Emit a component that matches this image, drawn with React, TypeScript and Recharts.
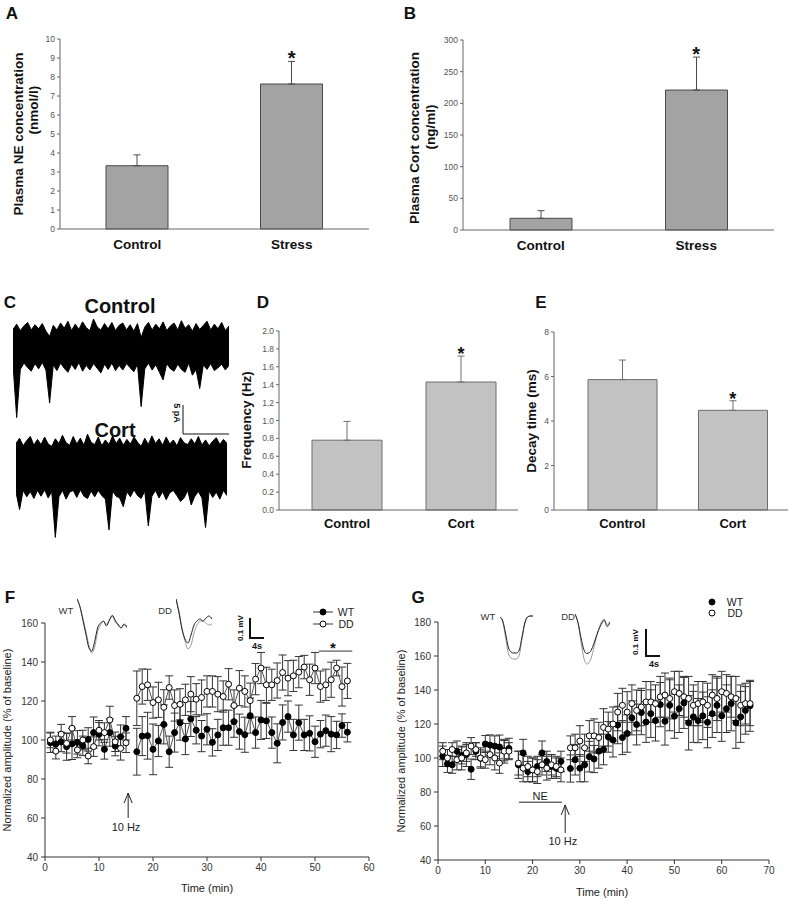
import React from "react";
import {
  BarChart,
  Bar,
  XAxis,
  YAxis,
  ErrorBar,
  ReferenceDot,
  ReferenceLine,
  ComposedChart,
  Line,
  LineChart,
  AreaChart,
  Area,
} from "recharts";

const FONT = "'Liberation Sans', Arial, Helvetica, sans-serif";

// A / B : plasma levels
const stressGroups = ["Control", "Stress"];
const neLevel = [3.33, 7.63];
const neErr = [0.57, 1.19];
const neTicks = [0, 1, 2, 3, 4, 5, 6, 7, 8, 9, 10];
const plasmaCort = [18.5, 221];
const plasmaCortErr = [12, 52];
const plasmaCortTicks = [0, 50, 100, 150, 200, 250, 300];

// D / E : mEPSC frequency and decay
const cortGroups = ["Control", "Cort"];
const freq = [0.78, 1.43];
const freqErr = [0.21, 0.29];
const freqTicks = [0, 0.2, 0.4, 0.6, 0.8, 1.0, 1.2, 1.4, 1.6, 1.8, 2.0];
const decay = [5.86, 4.48];
const decayErr = [0.88, 0.43];
const decayTicks = [0, 2, 4, 6, 8];

// C : example traces (pA), band top / bottom
const ctrlHigh = [
  3.0, 3.9, 2.8, 3.6, 4.2, 2.9, 3.8, 3.1, 4.0, 2.7,
  1.8, 3.7, 2.9, 4.1, 3.2, 4.4, 2.8, 3.9, 3.0, 4.3,
  3.3, 2.8, 4.8, 3.4, 2.9, 4.0, 3.1, 4.2, 2.8, 3.7,
  4.1, 2.9, 3.8, 2.7, 4.0, 1.6, 3.4, 4.2, 2.9, 3.9,
  3.1, 4.3, 2.8, 3.6, 4.1, 2.9, 4.5, 3.2, 3.8, 2.7,
  4.0, 3.0, 3.7, 4.4, 2.9, 3.9, 3.1, 4.2, 2.8, 3.6,
];
const ctrlLow = [
  -3.0, -12.2, -3.9, -2.8, -3.6, -4.2, -2.9, -3.8, -2.7, -4.0,
  -9.7, -3.1, -4.1, -2.8, -3.7, -4.4, -3.0, -3.9, -2.7, -4.2,
  -3.2, -4.0, -2.9, -3.7, -4.5, -3.0, -3.9, -2.8, -4.1, -3.2,
  -4.0, -2.9, -3.6, -4.3, -3.0, -10.3, -3.8, -2.8, -4.0, -3.1,
  -4.4, -5.7, -2.9, -3.8, -4.2, -3.0, -3.9, -4.4, -2.8, -4.9,
  -3.9, -7.2, -3.1, -3.9, -2.9, -4.1, -3.6, -3.0, -4.0, -3.2,
];
const cortHigh = [
  4.2, 5.1, 3.8, 4.7, 5.4, 3.9, 4.9, 4.0, 5.3, 4.1,
  3.7, 5.0, 4.2, 5.6, 4.3, 3.9, 5.4, 4.1, 5.1, 3.9,
  5.8, 4.4, 4.0, 5.3, 3.8, 4.8, 4.0, 5.5, 4.2, 5.1,
  3.9, 4.9, 4.1, 5.3, 4.4, 3.7, 5.1, 4.0, 5.5, 4.2,
  5.0, 3.9, 5.3, 4.1, 4.8, 3.8, 5.2, 4.3, 4.0, 5.0,
  4.1, 5.4, 3.9, 4.8, 3.8, 4.6, 5.2, 4.0, 4.9, 4.2,
];
const cortLow = [
  -4.2, -7.2, -3.9, -5.0, -4.1, -5.3, -3.9, -4.9, -3.8, -5.2,
  -4.1, -12.0, -5.0, -3.9, -5.4, -4.2, -3.9, -5.1, -3.8, -4.9,
  -5.3, -4.0, -5.0, -3.9, -4.8, -5.4, -10.7, -4.0, -4.9, -5.2,
  -6.7, -4.1, -5.0, -3.8, -4.8, -5.3, -4.0, -10.0, -4.9, -3.9,
  -5.2, -4.1, -5.5, -4.3, -3.9, -4.8, -5.8, -5.2, -3.9, -6.4,
  -4.9, -4.1, -5.2, -10.3, -4.0, -5.1, -4.2, -5.4, -3.9, -4.8,
];

// F : 10 Hz LTP, WT vs DD
const fTime = [
  1, 2, 3, 4, 5, 6, 7, 8, 9, 10, 11, 12, 13, 14, 15, 16, 17, 18, 19, 20,
  21, 22, 23, 24, 25, 26, 27, 28, 29, 30, 31, 32, 33, 34, 35, 36, 37, 38, 39, 40,
  41, 42, 43, 44, 45, 46, 47, 48, 49, 50, 51, 52, 53, 54, 55, 56,
];
const fWT = [
  98.6, 98, 99, 96.6, 98, 98.8, 97, 100.3, 103.8, 103, 95.2, 103.8, 96.9, 101.7, 106, null,
  94, 102, 102.2, 95.2, 99.5, 108, 94, 103.8, 108.9, 100.5,
  110.8, 105, 102, 105.5, 98.8, 102.6, 106.3, 106.3, 109.4, 104.3,
  102.7, 112.5, 103.8, 110.3, 109.8, 103.8, 98.3, 109, 112, 102.6,
  108.9, 102.6, 103.4, 99.1, 103, 104.8, 103, 102.6, 107.4, 104,
];
const fWTErr = [
  5, 4, 5, 7, 8, 6, 5, 6, 8, 6, 5, 7, 5, 6, 6, null,
  12, 10, 12, 13, 8, 10, 8, 10, 9, 8,
  9, 7, 8, 8, 7, 8, 9, 9, 8, 9,
  9, 9, 8, 10, 9, 8, 10, 9, 8, 8,
  9, 8, 9, 8, 7, 8, 9, 7, 6, 5,
];
const fDD = [
  100, 94.3, 103, 98.3, 106, 94.9, 100, 91.8, 96.6, 105, 103.8, 110.3, 99.1, 95.7, 98.6, null,
  121.4, 127.4, 128.3, 119.2, 120.6, 116.8, 126.9, 117.7, 118.3, 120.6,
  123.5, 120.9, 121.8, 124.9, 124.9, 123.5, 122.3, 128.6, 117.7, 126.6,
  124.9, 120.2, 131.2, 136.9, 128.3, 128.3, 130.5, 134.6, 131.7, 132.9,
  134.8, 137.4, 130.9, 136.9, 127.4, 128.3, 130.9, 136.9, 127.4, 130.3,
];
const fDDErr = [
  4, 4, 5, 5, 6, 4, 5, 4, 5, 5, 5, 7, 5, 6, 5, null,
  14, 9, 8, 8, 9, 9, 6, 8, 8, 8,
  9, 8, 9, 8, 8, 9, 8, 8, 8, 9,
  8, 9, 8, 8, 9, 8, 9, 9, 9, 8,
  8, 6, 8, 8, 8, 8, 9, 4, 10, 9,
];
const fTimeTicks = [0, 10, 20, 30, 40, 50, 60];
const fAmpTicks = [40, 60, 80, 100, 120, 140, 160];

// G : NE then 10 Hz, WT vs DD
const gTime = [
  1, 2, 3, 4, 5, 6, 7, 8, 9, 10, 11, 12, 13, 14, 15, 16, 17, 18, 19, 20,
  21, 22, 23, 24, 25, 26, 27, 28, 29, 30, 31, 32, 33, 34, 35, 36, 37, 38, 39, 40,
  41, 42, 43, 44, 45, 46, 47, 48, 49, 50, 51, 52, 53, 54, 55, 56, 57, 58, 59, 60,
  61, 62, 63, 64, 65, 66,
];
const gWT = [
  101, 96.5, 96, 104, 101.5, 102, 93.4, 104, 99.8, 108.2, 107.6, 107, 106.5, 104.3, 105.6, null,
  96, 103, 92, 93, 95, 103, 98, 95, 94, 98, null,
  93.8, 99, 94, 96, 100.8, 99.4, 104, 105, 112.4, 110.6,
  119.4, 112, 114.4, 123.6, 119.7, 126.7, 121.2, 126.1, 122, 131.4,
  121.6, 131, 124.6, 129, 132.4, 120.7, 124.2, 122, 124.8, 121,
  126.1, 131, 124.8, 129, 132, 120.7, 124.2, 128, 130.7,
];
const gWTErr = [
  6, 5, 5, 6, 5, 7, 6, 5, 5, 5, 6, 6, 7, 6, 6, null,
  8, 8, 6, 7, 6, 7, 6, 7, 6, 6, null,
  8, 9, 8, 10, 9, 8, 10, 9, 9, 10,
  11, 10, 11, 10, 12, 13, 12, 14, 12, 13,
  14, 15, 13, 14, 15, 16, 15, 13, 14, 15,
  14, 16, 15, 14, 16, 15, 15, 14, 15,
];
const gDD = [
  104, 100, 105, 99, 100, 103, 107, 105, 100, 99, 102, 100, 97, 104, 104, null,
  97, 94, 95, 93, 92, 96, 94, 96, 95, 93, null,
  106, 106, 110, 106, 113, 113, 112, 118, 117, 120,
  127, 131, 127, 132, 128, 130, 133, 133, 132, 136,
  137, 135, 139, 138, 136, 135, 131, 132, 133, 131,
  137, 135, 139, 138, 136, 135, 131, 132, 132,
];
const gDDErr = [
  5, 5, 4, 6, 7, 5, 5, 4, 6, 5, 6, 7, 6, 7, 5, null,
  7, 8, 6, 7, 7, 6, 7, 6, 6, 7, null,
  7, 8, 9, 8, 9, 10, 9, 11, 10, 10,
  11, 10, 12, 11, 12, 11, 12, 12, 11, 12,
  13, 12, 12, 13, 12, 13, 12, 13, 12, 13,
  12, 13, 12, 11, 12, 13, 12, 12, 13,
];
const gTimeTicks = [0, 10, 20, 30, 40, 50, 60, 70];
const gAmpTicks = [40, 60, 80, 100, 120, 140, 160, 180];

// field potential insets (arbitrary units, dark = baseline, light = after)
const fInsetWtDark = [0, -8, -22, -36, -50, -54, -44, -30, -25, -23, -28, -22, -17, -22, -27, -30, -26, -29];
const fInsetWtLight = [0, -8, -20, -33, -47, -56, -50, -34, -27, -23, -26, -22, -18, -24, -26, -30, -27, -30];
const fInsetDdDark = [0, -14, -30, -40, -44, -36, -26, -22, -20, -22, -19, -17, -20];
const fInsetDdLight = [0, -12, -30, -42, -50, -46, -34, -26, -22, -22, -24, -26, -25];
const gInsetWtDark = [0, -4, -16, -30, -35, -36, -36, -33, -20, -6, 0, 1, 1];
const gInsetWtLight = [0, -5, -20, -36, -41, -42, -42, -38, -22, -7, 0, 1, 1];
const gInsetDdDark = [2, -6, -20, -32, -36, -35, -30, -22, -14, -8, -4, -10, -6];
const gInsetDdLight = [2, -6, -24, -40, -46, -44, -36, -24, -14, -6, -3, -8, -5];

function Txt({ x, y, children, size = 11, weight = 400, rot = 0, color = "#111" }: any) {
  return (
    <div
      style={{
        position: "absolute",
        left: x,
        top: y,
        transform: `translate(-50%, -50%) rotate(${rot}deg)`,
        fontSize: size,
        fontWeight: weight,
        color,
        whiteSpace: "nowrap",
        lineHeight: 1,
        fontFamily: FONT,
      }}
    >
      {children}
    </div>
  );
}

const starShape = (size: number, lift: number) => (s: any) => (
  <text x={s.cx} y={s.cy + lift} textAnchor="middle" fontSize={size} fontWeight={700} fontFamily={FONT} fill="#111">
    *
  </text>
);

function BarPanel(p: any) {
  const data = p.groups.map((g: string, i: number) => ({ group: g, value: p.values[i], err: [0, p.errs[i]] }));
  return (
    <div style={{ position: "absolute", left: p.left, top: p.top }}>
      <BarChart
        width={p.width}
        height={p.height}
        data={data}
        margin={{ top: p.padTop, right: p.padRight, bottom: 0, left: 0 }}
      >
        <XAxis
          dataKey="group"
          height={p.xh}
          tickLine={false}
          axisLine={{ stroke: "#666" }}
          interval={0}
          tickMargin={p.labelGap}
          padding={{ left: p.padLeft, right: 0 }}
          tick={{ fontSize: p.labelSize, fontWeight: 700, fill: "#111", fontFamily: FONT }}
        />
        <YAxis
          width={p.yw}
          domain={p.domain}
          ticks={p.ticks}
          interval={0}
          tickSize={3}
          tickMargin={2}
          tickFormatter={p.fmt}
          axisLine={{ stroke: "#666" }}
          tickLine={{ stroke: "#666" }}
          tick={{ fontSize: 8.5, fill: "#555", fontFamily: FONT }}
        />
        <Bar dataKey="value" barSize={p.barSize} fill={p.fill} stroke={p.stroke} strokeWidth={1} isAnimationActive={false}>
          <ErrorBar dataKey="err" direction="y" width={3.5} stroke={p.stroke} strokeWidth={1} />
        </Bar>
        <ReferenceDot
          x={p.groups[p.star]}
          y={p.values[p.star] + p.errs[p.star]}
          r={0}
          shape={starShape(p.starSize, 4)}
        />
      </BarChart>
    </div>
  );
}

function Trace({ left, top, width, height, high, low }: any) {
  const data = high.map((h: number, i: number) => ({ i, band: [low[i], h] }));
  return (
    <div style={{ position: "absolute", left, top }}>
      <AreaChart width={width} height={height} data={data} margin={{ top: 0, right: 0, bottom: 0, left: 0 }}>
        <XAxis dataKey="i" hide />
        <YAxis hide domain={[-14, 6]} allowDataOverflow />
        <Area
          dataKey="band"
          type="linear"
          stroke="#000"
          strokeWidth={1}
          fill="#000"
          fillOpacity={1}
          dot={false}
          activeDot={false}
          isAnimationActive={false}
        />
      </AreaChart>
    </div>
  );
}

function Inset({ left, top, width, height, dark, light, lo, hi }: any) {
  const data = dark.map((v: number, i: number) => ({ i, dark: v, light: light[i] }));
  return (
    <div style={{ position: "absolute", left, top }}>
      <LineChart width={width} height={height} data={data} margin={{ top: 0, right: 0, bottom: 0, left: 0 }}>
        <XAxis dataKey="i" hide />
        <YAxis hide domain={[lo, hi]} allowDataOverflow />
        <Line dataKey="light" type="monotone" stroke="#999" strokeWidth={1} dot={false} activeDot={false} isAnimationActive={false} />
        <Line dataKey="dark" type="monotone" stroke="#222" strokeWidth={1} dot={false} activeDot={false} isAnimationActive={false} />
      </LineChart>
    </div>
  );
}

function ScaleBar({ x, y, h, w, thick = 2 }: any) {
  return (
    <svg style={{ position: "absolute", left: x - 2, top: y - 2 }} width={w + 4} height={h + 4}>
      <path d={`M2 2 L2 ${h + 2} L${w + 2} ${h + 2}`} fill="none" stroke="#111" strokeWidth={thick} />
    </svg>
  );
}

const arrowShape = (s: any) => (
  <path d={`M${s.cx - 4} ${s.cy + 10} L${s.cx} ${s.cy} L${s.cx + 4} ${s.cy + 10}`} fill="none" stroke="#222" strokeWidth={1} />
);
const textShape = (label: string, size: number) => (s: any) => (
  <text x={s.cx} y={s.cy} textAnchor="middle" dominantBaseline="central" fontSize={size} fontFamily={FONT} fill="#222">
    {label}
  </text>
);

const axisTick = { fontSize: 10, fill: "#333", fontFamily: FONT };

export default function App() {
  const fData = fTime.map((t, i) => ({ t, wt: fWT[i], wtErr: fWTErr[i], dd: fDD[i], ddErr: fDDErr[i] }));
  const gData = gTime.map((t, i) => ({ t, wt: gWT[i], wtErr: gWTErr[i], dd: gDD[i], ddErr: gDDErr[i] }));

  return (
    <div
      style={{
        position: "absolute",
        left: 0,
        top: 0,
        width: 790,
        height: 900,
        background: "#fff",
        fontFamily: FONT,
        overflow: "hidden",
      }}
    >
      {/* A */}
      <Txt x={12} y={13} size={17} weight={700}>A</Txt>
      <BarPanel
        left={0} top={0} width={380} height={262} padTop={39} padRight={11} yw={60} xh={33}
        groups={stressGroups} values={neLevel} errs={neErr} star={1}
        domain={[0, 10]} ticks={neTicks} barSize={62} fill="#a3a3a3" stroke="#4a4a4a"
        labelSize={13.5} labelGap={4} padLeft={0} starSize={20}
      />
      <Txt x={19} y={134} size={13.5} weight={700} rot={-90}>Plasma NE concentration</Txt>
      <Txt x={34} y={110} size={13.5} weight={700} rot={-90}>(nmol/l)</Txt>

      {/* B */}
      <Txt x={410} y={13} size={17} weight={700}>B</Txt>
      <BarPanel
        left={395} top={0} width={390} height={262} padTop={40} padRight={11} yw={68} xh={32}
        groups={stressGroups} values={plasmaCort} errs={plasmaCortErr} star={1}
        domain={[0, 300]} ticks={plasmaCortTicks} barSize={62} fill="#a3a3a3" stroke="#4a4a4a"
        labelSize={13.5} labelGap={4} padLeft={0} starSize={20}
      />
      <Txt x={415} y={138} size={13.5} weight={700} rot={-90}>Plasma Cort concentration</Txt>
      <Txt x={431} y={127} size={13.5} weight={700} rot={-90}>(ng/ml)</Txt>

      {/* C */}
      <Txt x={10} y={302} size={17} weight={700}>C</Txt>
      <Txt x={120} y={306} size={20} weight={700}>Control</Txt>
      <Trace left={13} top={312} width={216} height={116} high={ctrlHigh} low={ctrlLow} />
      <Txt x={115} y={430} size={20} weight={700}>Cort</Txt>
      <Trace left={16} top={433} width={211} height={116} high={cortHigh} low={cortLow} />
      <ScaleBar x={183} y={405} h={29} w={46} thick={1} />
      <Txt x={176} y={413} size={9} weight={700} rot={90}>5 pA</Txt>
      <Txt x={202} y={444} size={9}>1s</Txt>

      {/* D */}
      <Txt x={263} y={302} size={17} weight={700}>D</Txt>
      <BarPanel
        left={250} top={300} width={272} height={240} padTop={31} padRight={4} yw={29} xh={30}
        groups={cortGroups} values={freq} errs={freqErr} star={1}
        domain={[0, 2]} ticks={freqTicks} fmt={(v: number) => v.toFixed(1)}
        barSize={70} fill="#c2c2c2" stroke="#6e6e6e" labelSize={13} labelGap={3} padLeft={11} starSize={18}
      />
      <Txt x={247} y={420} size={13.5} weight={700} rot={-90}>Frequency (Hz)</Txt>

      {/* E */}
      <Txt x={541} y={302} size={17} weight={700}>E</Txt>
      <BarPanel
        left={510} top={300} width={280} height={240} padTop={32} padRight={2} yw={44} xh={30}
        groups={cortGroups} values={decay} errs={decayErr} star={1}
        domain={[0, 8]} ticks={decayTicks} barSize={69} fill="#c2c2c2" stroke="#6e6e6e"
        labelSize={13} labelGap={3} padLeft={13} starSize={18}
      />
      <Txt x={532} y={421} size={13.5} weight={700} rot={-90}>Decay time (ms)</Txt>

      {/* F */}
      <Txt x={10} y={597} size={17} weight={700}>F</Txt>
      <div style={{ position: "absolute", left: 0, top: 590 }}>
        <ComposedChart width={395} height={305} data={fData} margin={{ top: 33, right: 26, bottom: 0, left: 0 }}>
          <XAxis
            dataKey="t" type="number" domain={[0, 60]} ticks={fTimeTicks} interval={0} height={38}
            tickSize={4} tickMargin={3} axisLine={{ stroke: "#333" }} tickLine={{ stroke: "#333" }} tick={axisTick}
          />
          <YAxis
            width={45} domain={[40, 160]} ticks={fAmpTicks} interval={0}
            tickSize={4} tickMargin={3} axisLine={{ stroke: "#333" }} tickLine={{ stroke: "#333" }} tick={axisTick}
          />
          <Line
            dataKey="wt" stroke="#555" strokeWidth={1} connectNulls={false} isAnimationActive={false} activeDot={false}
            dot={{ r: 3, fill: "#000", stroke: "#000", strokeWidth: 1 }}
          >
            <ErrorBar dataKey="wtErr" direction="y" width={4} stroke="#333" strokeWidth={1} />
          </Line>
          <Line
            dataKey="dd" stroke="#555" strokeWidth={1} connectNulls={false} isAnimationActive={false} activeDot={false}
            dot={{ r: 3, fill: "#fff", stroke: "#000", strokeWidth: 1 }}
          >
            <ErrorBar dataKey="ddErr" direction="y" width={4} stroke="#333" strokeWidth={1} />
          </Line>
          <ReferenceLine segment={[{ x: 50.7, y: 145.6 }, { x: 56.9, y: 145.6 }]} stroke="#333" strokeWidth={1} />
          <ReferenceDot x={53.3} y={145.6} r={0} shape={starShape(15, 2)} />
          <ReferenceLine segment={[{ x: 15.4, y: 72.8 }, { x: 15.4, y: 60 }]} stroke="#222" strokeWidth={1} />
          <ReferenceDot x={15.4} y={72.8} r={0} shape={arrowShape} />
          <ReferenceDot x={15.0} y={55.4} r={0} shape={textShape("10 Hz", 11)} />
        </ComposedChart>
      </div>
      <Txt x={7} y={740} size={11} rot={-90} color="#222">Normalized amplitude (% of baseline)</Txt>
      <Txt x={207} y={888} size={11} color="#222">Time (min)</Txt>
      <Txt x={66} y={611} size={9.5} color="#333">WT</Txt>
      <Inset left={77} top={597} width={50} height={58} dark={fInsetWtDark} light={fInsetWtLight} lo={-58} hi={2} />
      <Txt x={165} y={611} size={9.5} color="#333">DD</Txt>
      <Inset left={176} top={597} width={36} height={54} dark={fInsetDdDark} light={fInsetDdLight} lo={-52} hi={2} />
      <ScaleBar x={250} y={618} h={20} w={14} />
      <Txt x={241} y={628} size={8} weight={700} rot={-90}>0.1 mV</Txt>
      <Txt x={257} y={646} size={9} weight={700}>4s</Txt>
      <svg style={{ position: "absolute", left: 310, top: 604 }} width={28} height={28}>
        <line x1={3} y1={8} x2={23} y2={8} stroke="#333" strokeWidth={1} />
        <circle cx={13} cy={8} r={3} fill="#000" stroke="#000" />
        <line x1={3} y1={20} x2={23} y2={20} stroke="#333" strokeWidth={1} />
        <circle cx={13} cy={20} r={3} fill="#fff" stroke="#000" />
      </svg>
      <Txt x={346} y={612} size={10.5} color="#222">WT</Txt>
      <Txt x={346} y={624} size={10.5} color="#222">DD</Txt>

      {/* G */}
      <Txt x={418} y={597} size={17} weight={700}>G</Txt>
      <div style={{ position: "absolute", left: 395, top: 590 }}>
        <ComposedChart width={395} height={310} data={gData} margin={{ top: 32, right: 21, bottom: 0, left: 0 }}>
          <XAxis
            dataKey="t" type="number" domain={[0, 70]} ticks={gTimeTicks} interval={0} height={40}
            tickSize={4} tickMargin={3} axisLine={{ stroke: "#333" }} tickLine={{ stroke: "#333" }} tick={axisTick}
          />
          <YAxis
            width={43} domain={[40, 180]} ticks={gAmpTicks} interval={0}
            tickSize={4} tickMargin={3} axisLine={{ stroke: "#333" }} tickLine={{ stroke: "#333" }} tick={axisTick}
          />
          <Line
            dataKey="wt" stroke="none" isAnimationActive={false} activeDot={false}
            dot={{ r: 3, fill: "#000", stroke: "#000", strokeWidth: 1 }}
          >
            <ErrorBar dataKey="wtErr" direction="y" width={4} stroke="#333" strokeWidth={1} />
          </Line>
          <Line
            dataKey="dd" stroke="none" isAnimationActive={false} activeDot={false}
            dot={{ r: 3, fill: "#fff", stroke: "#000", strokeWidth: 1 }}
          >
            <ErrorBar dataKey="ddErr" direction="y" width={4} stroke="#333" strokeWidth={1} />
          </Line>
          <ReferenceLine segment={[{ x: 17.1, y: 74 }, { x: 26.2, y: 74 }]} stroke="#222" strokeWidth={1} />
          <ReferenceDot x={21.6} y={77.8} r={0} shape={textShape("NE", 11)} />
          <ReferenceLine segment={[{ x: 26.9, y: 72.4 }, { x: 26.9, y: 55.9 }]} stroke="#222" strokeWidth={1} />
          <ReferenceDot x={26.9} y={72.4} r={0} shape={arrowShape} />
          <ReferenceDot x={26.4} y={51} r={0} shape={textShape("10 Hz", 11)} />
        </ComposedChart>
      </div>
      <Txt x={401} y={741} size={11} rot={-90} color="#222">Normalized amplitude (% of baseline)</Txt>
      <Txt x={602} y={892} size={11} color="#222">Time (min)</Txt>
      <Txt x={488} y={617} size={9.5} color="#333">WT</Txt>
      <Inset left={500} top={615} width={33} height={46} dark={gInsetWtDark} light={gInsetWtLight} lo={-44} hi={2} />
      <Txt x={568} y={617} size={9.5} color="#333">DD</Txt>
      <Inset left={575} top={614} width={35} height={52} dark={gInsetDdDark} light={gInsetDdLight} lo={-48} hi={2} />
      <ScaleBar x={646} y={629} h={27} w={14} />
      <Txt x={636} y={642} size={8} weight={700} rot={-90}>0.1 mV</Txt>
      <Txt x={654} y={664} size={9} weight={700}>4s</Txt>
      <svg style={{ position: "absolute", left: 705, top: 595 }} width={16} height={26}>
        <circle cx={7} cy={7} r={3} fill="#000" stroke="#000" />
        <circle cx={7} cy={18} r={3} fill="#fff" stroke="#000" />
      </svg>
      <Txt x={735} y={602} size={10.5} color="#222">WT</Txt>
      <Txt x={735} y={613} size={10.5} color="#222">DD</Txt>
    </div>
  );
}
